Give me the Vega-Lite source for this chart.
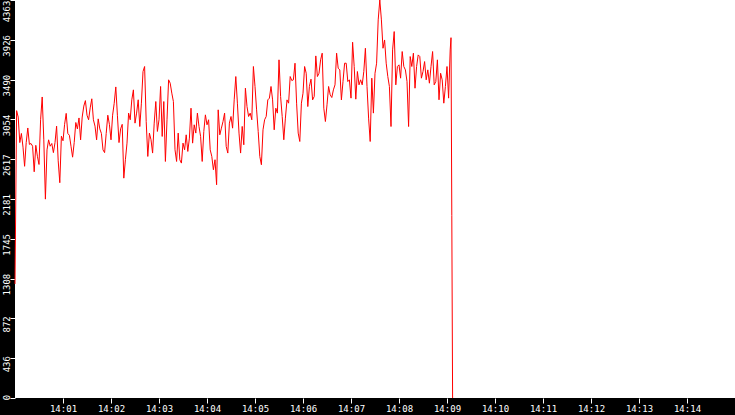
{
  "$schema": "https://vega.github.io/schema/vega-lite/v6.json",
  "width": 720,
  "height": 398,
  "autosize": "none",
  "padding": {"left": 15, "top": 0, "right": 0, "bottom": 17},
  "background": "black",
  "view": {"fill": "white", "stroke": null},
  "data": {
    "format": {"parse": {"t": "date:'%H:%M:%S'"}},
    "values": [
      {"t": "14:00:00", "v": 1250}, {"t": "14:00:02", "v": 3150}, {"t": "14:00:04", "v": 3080}, {"t": "14:00:06", "v": 2800},
      {"t": "14:00:08", "v": 2900}, {"t": "14:00:10", "v": 2750}, {"t": "14:00:12", "v": 2540}, {"t": "14:00:14", "v": 2800},
      {"t": "14:00:16", "v": 2960}, {"t": "14:00:18", "v": 2780}, {"t": "14:00:20", "v": 2790}, {"t": "14:00:22", "v": 2760},
      {"t": "14:00:24", "v": 2480}, {"t": "14:00:26", "v": 2770}, {"t": "14:00:28", "v": 2650}, {"t": "14:00:30", "v": 2560},
      {"t": "14:00:32", "v": 3050}, {"t": "14:00:34", "v": 3300}, {"t": "14:00:36", "v": 2830}, {"t": "14:00:38", "v": 2180},
      {"t": "14:00:40", "v": 2720}, {"t": "14:00:42", "v": 2830}, {"t": "14:00:44", "v": 2760}, {"t": "14:00:46", "v": 2790},
      {"t": "14:00:48", "v": 2690}, {"t": "14:00:50", "v": 2800}, {"t": "14:00:52", "v": 2980}, {"t": "14:00:54", "v": 2600},
      {"t": "14:00:56", "v": 2360}, {"t": "14:00:58", "v": 2870}, {"t": "14:01:00", "v": 2820}, {"t": "14:01:02", "v": 3000},
      {"t": "14:01:04", "v": 3120}, {"t": "14:01:06", "v": 2900}, {"t": "14:01:08", "v": 2880}, {"t": "14:01:10", "v": 2760},
      {"t": "14:01:12", "v": 2640}, {"t": "14:01:14", "v": 2800}, {"t": "14:01:16", "v": 3020}, {"t": "14:01:18", "v": 2950},
      {"t": "14:01:20", "v": 3070}, {"t": "14:01:22", "v": 2830}, {"t": "14:01:24", "v": 3080}, {"t": "14:01:26", "v": 3200},
      {"t": "14:01:28", "v": 3260}, {"t": "14:01:30", "v": 3100}, {"t": "14:01:32", "v": 3050}, {"t": "14:01:34", "v": 3180},
      {"t": "14:01:36", "v": 3280}, {"t": "14:01:38", "v": 3050}, {"t": "14:01:40", "v": 2980}, {"t": "14:01:42", "v": 2830},
      {"t": "14:01:44", "v": 3060}, {"t": "14:01:46", "v": 2950}, {"t": "14:01:48", "v": 2900}, {"t": "14:01:50", "v": 2720},
      {"t": "14:01:52", "v": 2690}, {"t": "14:01:54", "v": 2900}, {"t": "14:01:56", "v": 3100}, {"t": "14:01:58", "v": 3000},
      {"t": "14:02:00", "v": 2830}, {"t": "14:02:02", "v": 3100}, {"t": "14:02:04", "v": 3230}, {"t": "14:02:06", "v": 3410},
      {"t": "14:02:08", "v": 3100}, {"t": "14:02:10", "v": 2800}, {"t": "14:02:12", "v": 2950}, {"t": "14:02:14", "v": 3000},
      {"t": "14:02:16", "v": 2410}, {"t": "14:02:18", "v": 2612}, {"t": "14:02:20", "v": 2794}, {"t": "14:02:22", "v": 3123},
      {"t": "14:02:24", "v": 3050}, {"t": "14:02:26", "v": 3269}, {"t": "14:02:28", "v": 3378}, {"t": "14:02:30", "v": 3013},
      {"t": "14:02:32", "v": 3123}, {"t": "14:02:34", "v": 3269}, {"t": "14:02:36", "v": 2976}, {"t": "14:02:38", "v": 3232},
      {"t": "14:02:40", "v": 3579}, {"t": "14:02:42", "v": 3634}, {"t": "14:02:44", "v": 3031}, {"t": "14:02:46", "v": 2648},
      {"t": "14:02:48", "v": 2904}, {"t": "14:02:50", "v": 2831}, {"t": "14:02:52", "v": 2685}, {"t": "14:02:54", "v": 3013},
      {"t": "14:02:56", "v": 3250}, {"t": "14:02:58", "v": 2922}, {"t": "14:03:00", "v": 3050}, {"t": "14:03:02", "v": 3415},
      {"t": "14:03:04", "v": 2867}, {"t": "14:03:06", "v": 3250}, {"t": "14:03:08", "v": 2593}, {"t": "14:03:10", "v": 3050},
      {"t": "14:03:12", "v": 3488}, {"t": "14:03:14", "v": 3451}, {"t": "14:03:16", "v": 3342}, {"t": "14:03:18", "v": 3250},
      {"t": "14:03:20", "v": 2721}, {"t": "14:03:22", "v": 2593}, {"t": "14:03:24", "v": 2904}, {"t": "14:03:26", "v": 2612},
      {"t": "14:03:28", "v": 2575}, {"t": "14:03:30", "v": 2794}, {"t": "14:03:32", "v": 2721}, {"t": "14:03:34", "v": 2885},
      {"t": "14:03:36", "v": 2703}, {"t": "14:03:38", "v": 2849}, {"t": "14:03:40", "v": 3177}, {"t": "14:03:42", "v": 2794},
      {"t": "14:03:44", "v": 2995}, {"t": "14:03:46", "v": 2904}, {"t": "14:03:48", "v": 3123}, {"t": "14:03:50", "v": 2976},
      {"t": "14:03:52", "v": 2867}, {"t": "14:03:54", "v": 2593}, {"t": "14:03:56", "v": 2922}, {"t": "14:03:58", "v": 3104},
      {"t": "14:04:00", "v": 2995}, {"t": "14:04:02", "v": 3050}, {"t": "14:04:04", "v": 2721}, {"t": "14:04:06", "v": 2648},
      {"t": "14:04:08", "v": 2502}, {"t": "14:04:10", "v": 2612}, {"t": "14:04:12", "v": 2338}, {"t": "14:04:14", "v": 3159},
      {"t": "14:04:16", "v": 2885}, {"t": "14:04:18", "v": 2958}, {"t": "14:04:20", "v": 3031}, {"t": "14:04:22", "v": 3123},
      {"t": "14:04:24", "v": 2758}, {"t": "14:04:26", "v": 2685}, {"t": "14:04:28", "v": 3013}, {"t": "14:04:30", "v": 3086},
      {"t": "14:04:32", "v": 2958}, {"t": "14:04:34", "v": 3269}, {"t": "14:04:36", "v": 3524}, {"t": "14:04:38", "v": 3232},
      {"t": "14:04:40", "v": 2904}, {"t": "14:04:42", "v": 2685}, {"t": "14:04:44", "v": 2977}, {"t": "14:04:46", "v": 2776},
      {"t": "14:04:48", "v": 3396}, {"t": "14:04:50", "v": 3195}, {"t": "14:04:52", "v": 3086}, {"t": "14:04:54", "v": 3123},
      {"t": "14:04:56", "v": 3050}, {"t": "14:04:58", "v": 3634}, {"t": "14:05:00", "v": 3415}, {"t": "14:05:02", "v": 3159},
      {"t": "14:05:04", "v": 2922}, {"t": "14:05:06", "v": 2648}, {"t": "14:05:08", "v": 2557}, {"t": "14:05:10", "v": 2940},
      {"t": "14:05:12", "v": 3050}, {"t": "14:05:14", "v": 3086}, {"t": "14:05:16", "v": 3268}, {"t": "14:05:18", "v": 3287},
      {"t": "14:05:20", "v": 3415}, {"t": "14:05:22", "v": 3268}, {"t": "14:05:24", "v": 2940}, {"t": "14:05:26", "v": 3177},
      {"t": "14:05:28", "v": 3123}, {"t": "14:05:30", "v": 3707}, {"t": "14:05:32", "v": 3305}, {"t": "14:05:34", "v": 3086},
      {"t": "14:05:36", "v": 2831}, {"t": "14:05:38", "v": 3068}, {"t": "14:05:40", "v": 3268}, {"t": "14:05:42", "v": 3232},
      {"t": "14:05:44", "v": 3524}, {"t": "14:05:46", "v": 3480}, {"t": "14:05:48", "v": 3488}, {"t": "14:05:50", "v": 3670},
      {"t": "14:05:52", "v": 3232}, {"t": "14:05:54", "v": 2904}, {"t": "14:05:56", "v": 2812}, {"t": "14:05:58", "v": 3232},
      {"t": "14:06:00", "v": 3341}, {"t": "14:06:02", "v": 3634}, {"t": "14:06:04", "v": 3560}, {"t": "14:06:06", "v": 3195},
      {"t": "14:06:08", "v": 3415}, {"t": "14:06:10", "v": 3495}, {"t": "14:06:12", "v": 3268}, {"t": "14:06:14", "v": 3305},
      {"t": "14:06:16", "v": 3750}, {"t": "14:06:18", "v": 3524}, {"t": "14:06:20", "v": 3560}, {"t": "14:06:22", "v": 3707},
      {"t": "14:06:24", "v": 3780}, {"t": "14:06:26", "v": 3177}, {"t": "14:06:28", "v": 3031}, {"t": "14:06:30", "v": 3214},
      {"t": "14:06:32", "v": 3415}, {"t": "14:06:34", "v": 3323}, {"t": "14:06:36", "v": 3294}, {"t": "14:06:38", "v": 3378},
      {"t": "14:06:40", "v": 3433}, {"t": "14:06:42", "v": 3780}, {"t": "14:06:44", "v": 3615}, {"t": "14:06:46", "v": 3597},
      {"t": "14:06:48", "v": 3268}, {"t": "14:06:50", "v": 3470}, {"t": "14:06:52", "v": 3670}, {"t": "14:06:54", "v": 3670},
      {"t": "14:06:56", "v": 3469}, {"t": "14:06:58", "v": 3488}, {"t": "14:07:00", "v": 3287}, {"t": "14:07:02", "v": 3900},
      {"t": "14:07:04", "v": 3634}, {"t": "14:07:06", "v": 3276}, {"t": "14:07:08", "v": 3579}, {"t": "14:07:10", "v": 3433},
      {"t": "14:07:12", "v": 3488}, {"t": "14:07:14", "v": 3433}, {"t": "14:07:16", "v": 3579}, {"t": "14:07:18", "v": 3834},
      {"t": "14:07:20", "v": 3415}, {"t": "14:07:22", "v": 3068}, {"t": "14:07:24", "v": 2812}, {"t": "14:07:26", "v": 3506},
      {"t": "14:07:28", "v": 3123}, {"t": "14:07:30", "v": 3560}, {"t": "14:07:32", "v": 3670}, {"t": "14:07:34", "v": 4145},
      {"t": "14:07:36", "v": 4363}, {"t": "14:07:38", "v": 4145}, {"t": "14:07:40", "v": 3834}, {"t": "14:07:42", "v": 3925},
      {"t": "14:07:44", "v": 3670}, {"t": "14:07:46", "v": 3524}, {"t": "14:07:48", "v": 3415}, {"t": "14:07:50", "v": 2976},
      {"t": "14:07:52", "v": 3816}, {"t": "14:07:54", "v": 4017}, {"t": "14:07:56", "v": 3433}, {"t": "14:07:58", "v": 3634},
      {"t": "14:08:00", "v": 3652}, {"t": "14:08:02", "v": 3506}, {"t": "14:08:04", "v": 3798}, {"t": "14:08:06", "v": 3634},
      {"t": "14:08:08", "v": 3597}, {"t": "14:08:10", "v": 3469}, {"t": "14:08:12", "v": 2976}, {"t": "14:08:14", "v": 3743},
      {"t": "14:08:16", "v": 3634}, {"t": "14:08:18", "v": 3780}, {"t": "14:08:20", "v": 3396}, {"t": "14:08:22", "v": 3634},
      {"t": "14:08:24", "v": 3761}, {"t": "14:08:26", "v": 3743}, {"t": "14:08:28", "v": 3506}, {"t": "14:08:30", "v": 3579},
      {"t": "14:08:32", "v": 3688}, {"t": "14:08:34", "v": 3488}, {"t": "14:08:36", "v": 3597}, {"t": "14:08:38", "v": 3451},
      {"t": "14:08:40", "v": 3634}, {"t": "14:08:42", "v": 3798}, {"t": "14:08:44", "v": 3433}, {"t": "14:08:46", "v": 3469},
      {"t": "14:08:48", "v": 3707}, {"t": "14:08:50", "v": 3269}, {"t": "14:08:52", "v": 3560}, {"t": "14:08:54", "v": 3488},
      {"t": "14:08:56", "v": 3232}, {"t": "14:08:58", "v": 3415}, {"t": "14:09:00", "v": 3634}, {"t": "14:09:02", "v": 3287},
      {"t": "14:09:04", "v": 3816}, {"t": "14:09:05", "v": 3950}, {"t": "14:09:06", "v": 2000}, {"t": "14:09:07", "v": 0}
    ]
  },
  "mark": {"type": "line", "color": "#ff0000", "strokeWidth": 1},
  "encoding": {
    "x": {
      "field": "t",
      "type": "temporal",
      "scale": {
        "domain": [
          {"year": 1900, "month": 1, "date": 1, "hours": 14, "minutes": 0},
          {"year": 1900, "month": 1, "date": 1, "hours": 14, "minutes": 15}
        ]
      },
      "axis": {
        "title": null,
        "values": [
          {"year": 1900, "month": 1, "date": 1, "hours": 14, "minutes": 1},
          {"year": 1900, "month": 1, "date": 1, "hours": 14, "minutes": 2},
          {"year": 1900, "month": 1, "date": 1, "hours": 14, "minutes": 3},
          {"year": 1900, "month": 1, "date": 1, "hours": 14, "minutes": 4},
          {"year": 1900, "month": 1, "date": 1, "hours": 14, "minutes": 5},
          {"year": 1900, "month": 1, "date": 1, "hours": 14, "minutes": 6},
          {"year": 1900, "month": 1, "date": 1, "hours": 14, "minutes": 7},
          {"year": 1900, "month": 1, "date": 1, "hours": 14, "minutes": 8},
          {"year": 1900, "month": 1, "date": 1, "hours": 14, "minutes": 9},
          {"year": 1900, "month": 1, "date": 1, "hours": 14, "minutes": 10},
          {"year": 1900, "month": 1, "date": 1, "hours": 14, "minutes": 11},
          {"year": 1900, "month": 1, "date": 1, "hours": 14, "minutes": 12},
          {"year": 1900, "month": 1, "date": 1, "hours": 14, "minutes": 13},
          {"year": 1900, "month": 1, "date": 1, "hours": 14, "minutes": 14}
        ],
        "format": "%H:%M",
        "domain": false,
        "grid": false,
        "tickColor": "white",
        "tickSize": 5,
        "labelColor": "white",
        "labelFont": "DejaVu Sans Mono",
        "labelFontSize": 9,
        "labelPadding": 1,
        "labelOverlap": false,
        "labelFlush": false
      }
    },
    "y": {
      "field": "v",
      "type": "quantitative",
      "scale": {"domain": [0, 4363], "nice": false},
      "axis": {
        "title": null,
        "values": [0, 436.3, 872.6, 1308.9, 1745.2, 2181.5, 2617.8, 3054.1, 3490.4, 3926.7, 4363],
        "labelExpr": "floor(datum.value)",
        "domain": false,
        "grid": false,
        "tickColor": "white",
        "tickSize": 5,
        "labelColor": "white",
        "labelFont": "DejaVu Sans Mono",
        "labelFontSize": 9,
        "labelAngle": 270,
        "labelAlign": "center",
        "labelBaseline": "alphabetic",
        "labelPadding": 1,
        "labelOffset": {
          "condition": [
            {"test": "datum.value == 0", "value": -1},
            {"test": "datum.value > 4300", "value": 11}
          ],
          "value": 5.5
        },
        "labelOverlap": false,
        "labelFlush": false
      }
    }
  }
}
